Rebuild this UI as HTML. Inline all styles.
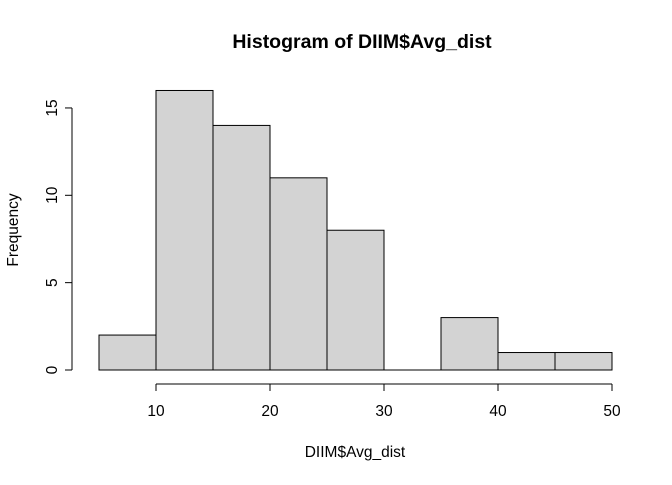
<!DOCTYPE html>
<html><head><meta charset="utf-8"><style>
body{margin:0;background:#fff}
svg text{font-family:"Liberation Sans",Arial,sans-serif;fill:#000}
</style></head><body>
<svg id="c" width="672" height="480">
<text x="362" y="48" text-anchor="middle" font-size="19.5" font-weight="bold">Histogram of DIIM$Avg_dist</text>
<text x="355" y="457" text-anchor="middle" font-size="15.5">DIIM$Avg_dist</text>
<text x="18" y="230" text-anchor="middle" font-size="15.5" transform="rotate(-90 18 230)">Frequency</text>
<g id="bars"></g><g id="xaxis"></g><g id="yaxis"></g>
</svg>
<script>
const binEdges=[5,10,15,20,25,30,35,40,45,50];
const counts=[2,16,14,11,8,0,3,1,1];
const xTicks=[10,20,30,40,50];
const yTicks=[0,5,10,15];
const NS="http://www.w3.org/2000/svg";
function X(v){return 156+(v-10)*11.4;}
function Y(v){return 370-v*17.47;}
function mk(t,a,p){const e=document.createElementNS(NS,t);for(const k in a)e.setAttribute(k,a[k]);p.appendChild(e);return e;}
const bars=document.getElementById('bars');
counts.forEach((c,i)=>{
 let r;
 if(c===0){
  r=mk('line',{x1:X(binEdges[i]),x2:X(binEdges[i+1]),y1:Y(0),y2:Y(0),stroke:'#000'},bars);
 }else{
  r=mk('rect',{x:X(binEdges[i]),y:Y(c),width:X(binEdges[i+1])-X(binEdges[i]),height:Y(0)-Y(c),fill:'#d3d3d3',stroke:'#000','stroke-width':1},bars);
 }
 
 
});
const xa=document.getElementById('xaxis');
const xl=mk('line',{x1:X(xTicks[0]),x2:X(xTicks[xTicks.length-1]),y1:384,y2:384,stroke:'#000'},xa);


xTicks.forEach(t=>{
 mk('line',{x1:X(t),x2:X(t),y1:384,y2:391,stroke:'#000'},xa);
 const tx=mk('text',{x:X(t),y:416,'text-anchor':'middle','font-size':15.5},xa);tx.textContent=t;
 
 
});
const ya=document.getElementById('yaxis');
const yl=mk('line',{x1:72,x2:72,y1:Y(yTicks[0]),y2:Y(yTicks[yTicks.length-1]),stroke:'#000'},ya);


yTicks.forEach(t=>{
 mk('line',{x1:65,x2:72,y1:Y(t),y2:Y(t),stroke:'#000'},ya);
 const tx=mk('text',{x:57,y:Y(t),'text-anchor':'middle','font-size':15.5,transform:'rotate(-90 57 '+Y(t)+')'},ya);tx.textContent=t;
 
 
});
</script>
</body></html>
